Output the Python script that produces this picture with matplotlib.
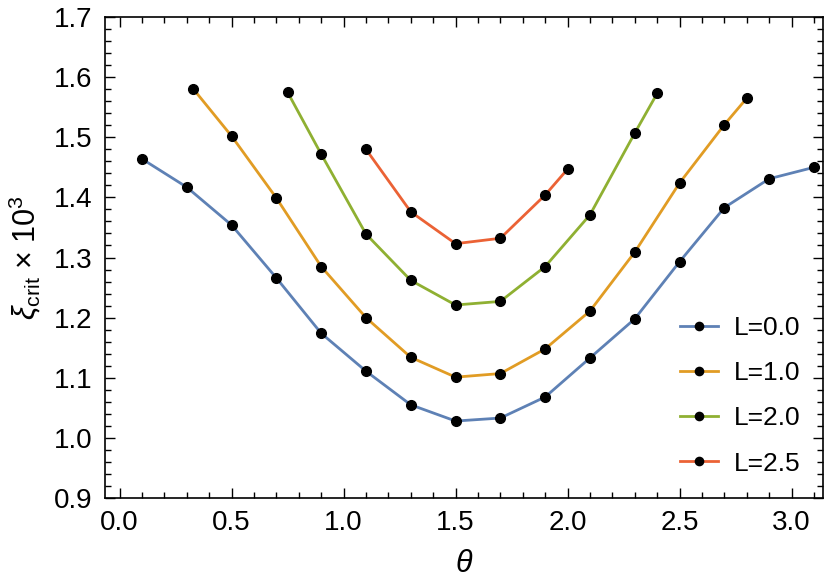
import matplotlib
matplotlib.use("Agg")
import matplotlib.pyplot as plt
from matplotlib.ticker import MultipleLocator, FormatStrFormatter

plt.rcParams["font.family"] = ["Liberation Sans", "DejaVu Sans"]
plt.rcParams["mathtext.fontset"] = "custom"
plt.rcParams["mathtext.rm"] = "Liberation Sans"
plt.rcParams["mathtext.it"] = "Liberation Sans:italic"

# theta values and xi_crit * 1e3 for each L
theta_l00 = [0.1, 0.3, 0.5, 0.7, 0.9, 1.1, 1.3, 1.5, 1.7, 1.9, 2.1, 2.3, 2.5, 2.7, 2.9, 3.1]
xi_l00 = [1.464, 1.417, 1.354, 1.266, 1.174, 1.111, 1.055, 1.028, 1.033, 1.068,
          1.133, 1.198, 1.293, 1.383, 1.431, 1.450]

theta_l10 = [0.33, 0.5, 0.7, 0.9, 1.1, 1.3, 1.5, 1.7, 1.9, 2.1, 2.3, 2.5, 2.7, 2.8]
xi_l10 = [1.580, 1.502, 1.399, 1.285, 1.200, 1.134, 1.101, 1.107, 1.148, 1.211,
          1.309, 1.424, 1.521, 1.565]

theta_l20 = [0.75, 0.9, 1.1, 1.3, 1.5, 1.7, 1.9, 2.1, 2.3, 2.4]
xi_l20 = [1.575, 1.472, 1.339, 1.262, 1.221, 1.227, 1.285, 1.371, 1.507, 1.573]

theta_l25 = [1.1, 1.3, 1.5, 1.7, 1.9, 2.0]
xi_l25 = [1.480, 1.376, 1.323, 1.332, 1.404, 1.447]

labels = ["L=0.0", "L=1.0", "L=2.0", "L=2.5"]
colors = ["#5E81B5", "#E19C24", "#8FB032", "#EB6235"]

series = [(theta_l00, xi_l00), (theta_l10, xi_l10), (theta_l20, xi_l20), (theta_l25, xi_l25)]

fig = plt.figure(figsize=(8.3, 5.83), dpi=100)
ax = fig.add_axes([0.1265, 0.1458, 0.865, 0.825])

for (x, y), lab, c in zip(series, labels, colors):
    ax.plot(x, y, color=c, lw=2.0, marker="o", ms=7, mfc="black", mec="black", label=lab)

ax.set_xlim(-0.065, 3.14)
ax.set_ylim(0.9, 1.7)
ax.xaxis.set_major_locator(MultipleLocator(0.5))
ax.xaxis.set_minor_locator(MultipleLocator(0.1))
ax.yaxis.set_major_locator(MultipleLocator(0.1))
ax.yaxis.set_minor_locator(MultipleLocator(0.02))
ax.xaxis.set_major_formatter(FormatStrFormatter("%.1f"))
ax.yaxis.set_major_formatter(FormatStrFormatter("%.1f"))
ax.tick_params(which="both", direction="in", top=True, right=True, labelsize=20, width=1.0)
ax.tick_params(which="major", length=7, pad=9)
ax.tick_params(which="minor", length=4)
for s in ax.spines.values():
    s.set_linewidth(1.2)

ax.set_xlabel(r"$\theta$", fontsize=22, labelpad=9)
ax.set_ylabel(r"$\xi_{\rm crit}$ × $10^3$", fontsize=22, labelpad=8)

ax.legend(loc="lower right", frameon=False, fontsize=19, handlelength=1.45,
          labelspacing=0.8, borderaxespad=0.45, handletextpad=0.6, markerscale=0.85)

fig.savefig("out.png", dpi=100)
